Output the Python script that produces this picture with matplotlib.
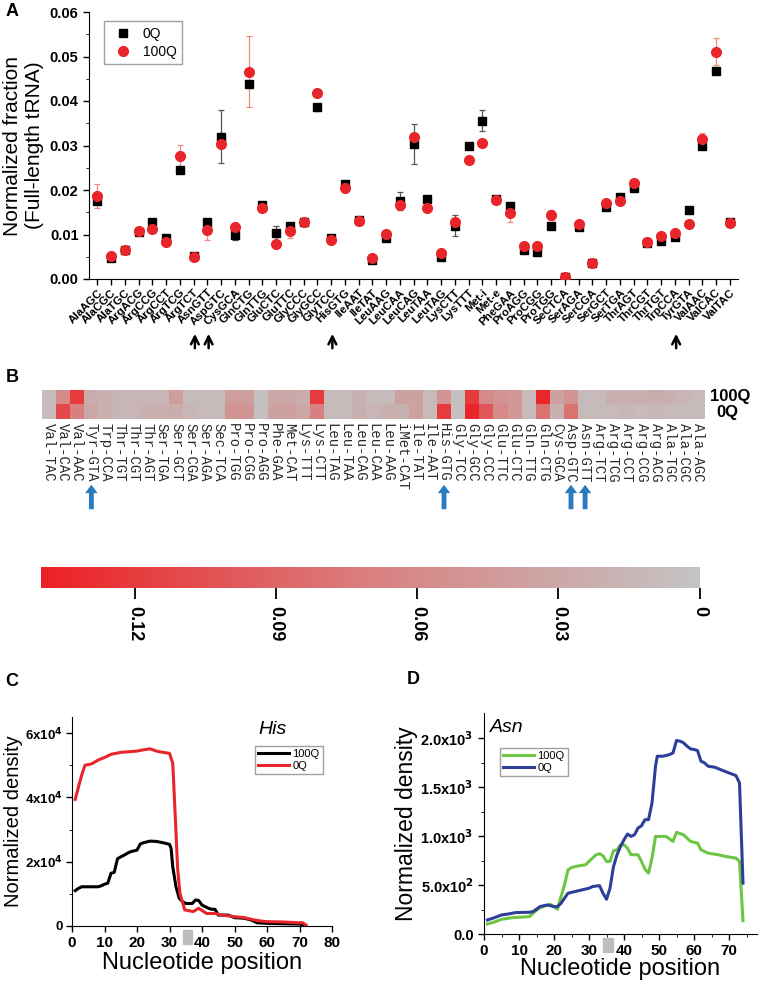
import numpy as np
import matplotlib
matplotlib.use('Agg')
import matplotlib.pyplot as plt
from matplotlib.colors import LinearSegmentedColormap

plt.rcParams['font.family'] = ['Liberation Sans', 'DejaVu Sans']

# ---------------- panel A data ----------------
trna_a = ['AlaAGC', 'AlaCGC', 'AlaTGC', 'ArgACG', 'ArgCCG', 'ArgCCT', 'ArgTCG', 'ArgTCT',
          'AsnGTT', 'AspGTC', 'CysGCA', 'GlnCTG', 'GlnTTG', 'GluCTC', 'GluTTC', 'GlyCCC',
          'GlyGCC', 'GlyTCC', 'HisGTG', 'IleAAT', 'IleTAT', 'LeuAAG', 'LeuCAA', 'LeuCAG',
          'LeuTAA', 'LeuTAG', 'LysCTT', 'LysTTT', 'Met-i', 'Met-e', 'PheGAA', 'ProAGG',
          'ProCGG', 'ProTGG', 'SeCTCA', 'SerAGA', 'SerCGA', 'SerGCT', 'SerTGA', 'ThrAGT',
          'ThrCGT', 'ThrTGT', 'TrpCCA', 'TyrGTA', 'ValAAC', 'ValCAC', 'ValTAC']
frac_0q = [0.0175, 0.0048, 0.0065, 0.0106, 0.0128, 0.0093, 0.0245, 0.0052,
           0.0129, 0.0320, 0.0098, 0.0438, 0.0167, 0.0103, 0.0120, 0.0128,
           0.0386, 0.0093, 0.0213, 0.0133, 0.0042, 0.0092, 0.0176, 0.0304,
           0.0180, 0.0050, 0.0120, 0.0299, 0.0356, 0.0180, 0.0163, 0.0065,
           0.0060, 0.0118, 0.0004, 0.0116, 0.0035, 0.0162, 0.0184, 0.0205,
           0.0080, 0.0086, 0.0095, 0.0155, 0.0299, 0.0468, 0.0128]
frac_100q = [0.0187, 0.0052, 0.0065, 0.0108, 0.0113, 0.0084, 0.0276, 0.0050,
             0.0110, 0.0303, 0.0116, 0.0466, 0.0160, 0.0078, 0.0107, 0.0128,
             0.0418, 0.0087, 0.0204, 0.0131, 0.0048, 0.0101, 0.0167, 0.0319,
             0.0160, 0.0058, 0.0128, 0.0267, 0.0305, 0.0178, 0.0149, 0.0074,
             0.0074, 0.0144, 0.0004, 0.0123, 0.0035, 0.0171, 0.0176, 0.0215,
             0.0084, 0.0097, 0.0103, 0.0124, 0.0314, 0.0511, 0.0126]
err_0q = [0.0005, 0.0003, 0.0003, 0.0004, 0.0004, 0.0004, 0.0004, 0.0003,
          0.0004, 0.0060, 0.0011, 0.0005, 0.0004, 0.0017, 0.0005, 0.0004,
          0.0008, 0.0003, 0.0004, 0.0004, 0.0003, 0.0004, 0.0020, 0.0045,
          0.0004, 0.0003, 0.0023, 0.0004, 0.0024, 0.0003, 0.0004, 0.0003,
          0.0003, 0.0004, 0.0003, 0.0004, 0.0003, 0.0004, 0.0004, 0.0004,
          0.0004, 0.0004, 0.0004, 0.0004, 0.0004, 0.0005, 0.0004]
err_100q = [0.0027, 0.0003, 0.0003, 0.0004, 0.0004, 0.0004, 0.0025, 0.0003,
            0.0022, 0.0004, 0.0010, 0.0080, 0.0004, 0.0004, 0.0015, 0.0004,
            0.0004, 0.0003, 0.0004, 0.0004, 0.0003, 0.0004, 0.0004, 0.0004,
            0.0004, 0.0003, 0.0004, 0.0004, 0.0004, 0.0003, 0.0022, 0.0003,
            0.0003, 0.0012, 0.0003, 0.0004, 0.0003, 0.0004, 0.0004, 0.0004,
            0.0008, 0.0004, 0.0004, 0.0004, 0.0015, 0.0030, 0.0004]
arrows_a = ['AsnGTT', 'AspGTC', 'HisGTG', 'TyrGTA']

# ---------------- panel B data ----------------
trna_b = ['Val-TAC', 'Val-CAC', 'Val-AAC', 'Tyr-GTA', 'Trp-CCA', 'Thr-TGT', 'Thr-CGT',
          'Thr-AGT', 'Ser-TGA', 'Ser-GCT', 'Ser-CGA', 'Ser-AGA', 'Sec-TCA', 'Pro-TGG',
          'Pro-CGG', 'Pro-AGG', 'Phe-GAA', 'Met-CAT', 'Lys-TTT', 'Lys-CTT', 'Leu-TAG',
          'Leu-TAA', 'Leu-CAG', 'Leu-CAA', 'Leu-AAG', 'iMet-CAT', 'Ile-TAT', 'Ile-AAT',
          'His-GTG', 'Gly-TCC', 'Gly-GCC', 'Gly-CCC', 'Glu-TTC', 'Glu-CTC', 'Gln-TTG',
          'Gln-CTG', 'Cys-GCA', 'Asp-GTC', 'Asn-GTT', 'Arg-TCT', 'Arg-TCG', 'Arg-CCT',
          'Arg-CCG', 'Arg-ACG', 'Ala-TGC', 'Ala-CGC', 'Ala-AGC']
heat_100q = [0.008, 0.060, 0.120, 0.025, 0.020, 0.015, 0.015, 0.015, 0.015, 0.040,
             0.010, 0.010, 0.010, 0.040, 0.040, 0.004, 0.030, 0.030, 0.025, 0.120,
             0.010, 0.010, 0.020, 0.010, 0.010, 0.035, 0.035, 0.010, 0.050, 0.004,
             0.120, 0.060, 0.050, 0.045, 0.010, 0.135, 0.035, 0.050, 0.010, 0.010,
             0.020, 0.020, 0.020, 0.025, 0.020, 0.015, 0.010]
heat_0q = [0.008, 0.110, 0.070, 0.030, 0.020, 0.015, 0.015, 0.020, 0.020, 0.025,
           0.015, 0.010, 0.010, 0.050, 0.050, 0.004, 0.035, 0.035, 0.030, 0.070,
           0.010, 0.010, 0.020, 0.015, 0.020, 0.020, 0.035, 0.010, 0.120, 0.004,
           0.135, 0.100, 0.060, 0.045, 0.010, 0.080, 0.020, 0.080, 0.010, 0.010,
           0.010, 0.015, 0.010, 0.015, 0.010, 0.010, 0.010]
arrows_b = ['Tyr-GTA', 'His-GTG', 'Asp-GTC', 'Asn-GTT']
cbar_ticks = [0.12, 0.09, 0.06, 0.03, 0]
cbar_labels = ['0.12', '0.09', '0.06', '0.03', '0']

# ---------------- panel C data (His) ----------------
his_pos_100q = [1, 2, 3, 5, 8, 9, 10, 11, 12, 13, 14, 15, 16, 17, 18, 20, 21, 22, 24, 26, 28,
                30, 30.5, 31, 32, 33, 34, 35, 37, 38, 39, 40, 42, 43, 44, 45, 48, 50, 53,
                55, 57, 60, 65, 70, 71]
his_100q = [11000, 11700, 12200, 12200, 12200, 12500, 13000, 13300, 16400, 16700, 20900,
            21500, 22000, 22600, 23100, 23600, 25500, 25900, 26400, 26300, 25900, 25400,
            24100, 18400, 12200, 8600, 7600, 7000, 7000, 8100, 7900, 6500, 5500, 5200,
            5200, 3400, 3400, 2600, 2400, 1900, 1000, 830, 700, 600, 300]
his_pos_0q = [1, 2, 3, 4, 6, 8, 10, 12, 15, 20, 22, 24, 26, 28, 30, 31, 31.5, 32.5, 33.2,
              34.7, 37.3, 39, 41.4, 44, 46, 50, 53, 56, 58, 60, 65, 70, 71, 72]
his_0q = [39400, 43300, 47000, 50000, 50400, 51600, 52400, 53400, 54000, 54400, 54800,
          55100, 54400, 54000, 53700, 50600, 40000, 18000, 10150, 5000, 4500, 5500, 3900,
          3900, 3400, 2900, 2600, 1900, 1550, 1350, 1250, 1000, 1000, 300]

# ---------------- panel D data (Asn) ----------------
asn_pos_0q = [1, 3, 5, 7, 9, 13, 14, 16, 18, 19, 20, 21, 22, 23, 24, 26, 28, 30, 31, 33,
              34, 35, 36, 37, 38, 39, 40, 41, 42, 43, 44, 45, 46, 47, 48, 49, 49.5, 51,
              52, 53, 54, 55, 56, 57, 58, 59, 60, 61, 62, 63, 64, 66, 68, 70, 72, 73, 74]
asn_0q = [144, 167, 195, 205, 219, 222, 229, 280, 297, 290, 280, 280, 314, 366, 417, 434,
          451, 468, 485, 495, 417, 355, 468, 690, 810, 895, 964, 1022, 998, 1015, 1083,
          1107, 1169, 1169, 1340, 1716, 1818, 1818, 1825, 1835, 1852, 1979, 1972, 1955,
          1921, 1893, 1887, 1876, 1767, 1750, 1716, 1705, 1675, 1647, 1620, 1545, 520]
asn_pos_100q = [1, 3, 5, 8, 10, 13, 14, 16, 19, 21, 22, 23, 24, 25, 27, 29, 30, 32, 33, 34,
                35, 36, 37, 38, 39, 40, 41, 42, 44, 45, 46, 47, 48, 49, 52, 54, 55, 57, 59,
                61, 62, 64, 67, 69, 72, 73, 74]
asn_100q = [103, 123, 150, 167, 171, 178, 212, 270, 304, 253, 383, 502, 656, 680, 697, 707,
            742, 810, 820, 800, 742, 742, 851, 861, 912, 912, 878, 810, 810, 742, 663, 622,
            776, 998, 998, 947, 1039, 1015, 947, 930, 861, 827, 810, 793, 776, 742, 137]

W, H = 760, 982
fig = plt.figure(figsize=(W / 100, H / 100), dpi=100)


def box(x0, y0, x1, y1):
    # pixel box -> figure fraction rect
    return [x0 / W, 1 - y1 / H, (x1 - x0) / W, (y1 - y0) / H]


red = '#e8252a'

# ---------------- A ----------------
axA = fig.add_axes(box(89, 12, 738, 279))
x = np.arange(len(trna_a))
axA.errorbar(x, frac_0q, yerr=err_0q, fmt='none', ecolor='#555555', elinewidth=0.9,
             capsize=2.5, capthick=0.9, zorder=2)
axA.errorbar(x, frac_100q, yerr=err_100q, fmt='none', ecolor='#f08a80', elinewidth=0.9,
             capsize=2.5, capthick=0.9, zorder=2)
axA.plot(x, frac_0q, 's', color='black', ms=5.5, ls='none', label='0Q', zorder=3)
axA.plot(x, frac_100q, 'o', color=red, ms=7, ls='none', label='100Q', zorder=4)
axA.set_xlim(-0.6, len(trna_a) - 0.4)
axA.set_ylim(0, 0.06)
axA.set_yticks([0, 0.01, 0.02, 0.03, 0.04, 0.05, 0.06])
axA.set_yticks(np.arange(0.005, 0.06, 0.01), minor=True)
axA.set_yticklabels(['%.2f' % v for v in [0, 0.01, 0.02, 0.03, 0.04, 0.05, 0.06]],
                    fontweight='bold', fontsize=10.5)
axA.set_xticks(x)
axA.set_xticklabels(trna_a, rotation=45, ha='right', rotation_mode='anchor',
                    fontweight='bold', fontsize=8.2)
axA.tick_params(axis='both', direction='out', length=4, width=1)
axA.tick_params(axis='x', pad=2)
axA.tick_params(axis='y', which='minor', length=2.5)
for s in ['top', 'right']:
    axA.spines[s].set_visible(False)
axA.set_ylabel('Normalized fraction\n(Full-length tRNA)', fontsize=15, labelpad=4)
legA = axA.legend(loc='upper left', bbox_to_anchor=(97 / W, 1 - 14 / H),
                  bbox_transform=fig.transFigure, fontsize=10, frameon=True,
                  fancybox=False, edgecolor='#888888', handletextpad=0.4,
                  borderpad=0.4, labelspacing=0.3)
for name in arrows_a:
    i = trna_a.index(name)
    axA.annotate('', xy=(i - 0.9, 1 - 331 / H), xycoords=('data', 'figure fraction'),
                 xytext=(i - 0.9, 1 - 351 / H), textcoords=('data', 'figure fraction'),
                 arrowprops=dict(arrowstyle='->', lw=1.8, color='black',
                                 mutation_scale=14), annotation_clip=False)

# ---------------- B ----------------
cmap = LinearSegmentedColormap.from_list('gr', ['#c4c4c4', '#d98080', '#ec2024'])
axB = fig.add_axes(box(42, 390, 705, 419))
heat = np.array([heat_100q, heat_0q])
im = axB.imshow(heat, cmap=cmap, vmin=0, vmax=0.14, aspect='auto',
                interpolation='nearest')
axB.set_yticks([])
axB.set_xticks(np.arange(len(trna_b)))
axB.set_xticklabels(trna_b, rotation=-90, family='Liberation Mono', fontsize=10,
                    color='#2a2a2a', va='top', ha='center')
axB.tick_params(axis='x', length=0, pad=3)
for s in axB.spines.values():
    s.set_visible(False)
fig.text(710 / W, 1 - 397 / H, '100Q', fontsize=12, fontweight='bold', va='center')
fig.text(716 / W, 1 - 412 / H, '0Q', fontsize=12, fontweight='bold', va='center')
for name in arrows_b:
    j = trna_b.index(name)
    axB.annotate('', xy=(j, 1 - 482 / H), xycoords=('data', 'figure fraction'),
                 xytext=(j, 1 - 512 / H), textcoords=('data', 'figure fraction'),
                 arrowprops=dict(arrowstyle='simple,head_width=0.9,head_length=0.6,tail_width=0.35',
                                 color='#2a7abf', lw=0), annotation_clip=False)

cax = fig.add_axes(box(41, 567, 709, 588))
cb = fig.colorbar(im, cax=cax, orientation='horizontal')
cb.outline.set_visible(False)
cax.set_xlim(0.14, -0.002)
cb.set_ticks(cbar_ticks)
cax.set_xticklabels(cbar_labels, rotation=-90, fontweight='bold', fontsize=13,
                    va='top')
cax.tick_params(axis='x', length=8, width=1.3, pad=5)

# ---------------- C ----------------
axC = fig.add_axes(box(72, 717, 332, 926))
axC.plot(his_pos_100q, his_100q, color='black', lw=2.2, label='100Q')
axC.plot(his_pos_0q, his_0q, color='#e8252a', lw=2.2, label='0Q')
axC.set_xlim(0, 80)
axC.set_ylim(0, 65000)
axC.set_xticks(np.arange(0, 81, 10))
axC.set_xticklabels([str(v) for v in range(0, 81, 10)], fontweight='bold', fontsize=11)
axC.set_yticks([0, 20000, 40000, 60000])
axC.set_yticks([10000, 30000, 50000], minor=True)
axC.set_yticklabels(['0', r'2x10$^\mathbf{4}$', r'4x10$^\mathbf{4}$', r'6x10$^\mathbf{4}$'],
                    fontweight='bold', fontsize=9.5)
axC.set_xlabel('Nucleotide position', fontsize=17, labelpad=1)
axC.set_ylabel('Normalized density', fontsize=14.5)
axC.yaxis.set_label_coords(-0.19, 0.5)
for s in ['top', 'right']:
    axC.spines[s].set_visible(False)
axC.tick_params(axis='both', direction='out', length=4, width=1)
axC.tick_params(axis='y', which='minor', length=2.5)
axC.tick_params(axis='y', pad=2.5)
axC.add_patch(plt.Rectangle((34, -0.085), 3, 0.068, transform=axC.get_xaxis_transform(),
                            color='#bdbdbd', clip_on=False, zorder=5))
axC.text(273 / W, 1 - 730 / H, 'His', transform=fig.transFigure, fontsize=14,
         style='italic', ha='center', va='center')
axC.legend(loc='upper left', bbox_to_anchor=(249 / W, 1 - 740 / H),
           bbox_transform=fig.transFigure, fontsize=8, frameon=True, fancybox=False,
           edgecolor='#888888', handlelength=2.8, handletextpad=0.3, borderpad=0.3,
           labelspacing=0.2)

# ---------------- D ----------------
axD = fig.add_axes(box(484, 713, 757, 934))
axD.plot(asn_pos_100q, asn_100q, color='#6cc644', lw=2.2, label='100Q')
axD.plot(asn_pos_0q, asn_0q, color='#2f3f99', lw=2.2, label='0Q')
axD.set_xlim(0, 78)
axD.set_ylim(0, 2260)
axD.set_xticks(np.arange(0, 71, 10))
axD.set_xticks(np.arange(5, 78, 10), minor=True)
axD.set_xticklabels([str(v) for v in range(0, 71, 10)], fontweight='bold', fontsize=11)
axD.set_yticks([0, 500, 1000, 1500, 2000])
axD.set_yticks([250, 750, 1250, 1750], minor=True)
axD.set_yticklabels(['0.0', r'5.0x10$^\mathbf{2}$', r'1.0x10$^\mathbf{3}$',
                     r'1.5x10$^\mathbf{3}$', r'2.0x10$^\mathbf{3}$'],
                    fontweight='bold', fontsize=10.5)
axD.set_xlabel('Nucleotide position', fontsize=17, labelpad=0)
axD.set_ylabel('Normalized density', fontsize=16.5, labelpad=2)
for s in ['top', 'right']:
    axD.spines[s].set_visible(False)
axD.tick_params(axis='both', direction='out', length=4, width=1)
axD.tick_params(which='minor', length=2.5)
axD.add_patch(plt.Rectangle((34.1, -0.082), 2.7, 0.064, transform=axD.get_xaxis_transform(),
                            color='#bdbdbd', clip_on=False, zorder=5))
axD.text(507 / W, 1 - 727 / H, 'Asn', transform=fig.transFigure, fontsize=14,
         style='italic', ha='center', va='center')
axD.legend(loc='upper left', bbox_to_anchor=(494 / W, 1 - 742 / H),
           bbox_transform=fig.transFigure, fontsize=8, frameon=True, fancybox=False,
           edgecolor='#888888', handlelength=2.8, handletextpad=0.3, borderpad=0.3,
           labelspacing=0.2)

# panel letters
for lab, px, py in [('A', 12, 12), ('B', 12, 378), ('C', 12, 682), ('D', 413, 680)]:
    fig.text(px / W, 1 - py / H, lab, fontsize=13, fontweight='bold', ha='center', va='center')

fig.savefig('out.png', dpi=100)
